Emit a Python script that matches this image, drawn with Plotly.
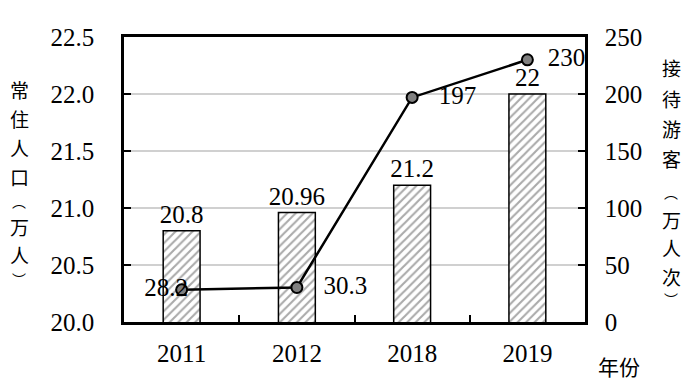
import plotly.graph_objects as go

years = ["2011", "2012", "2018", "2019"]
population = [20.8, 20.96, 21.2, 22]
pop_labels = ["20.8", "20.96", "21.2", "22"]
visitors = [28.2, 30.3, 197, 230]
visitor_labels = ["28.2", "30.3", "197", "230"]
left_ticks = [20.0, 20.5, 21.0, 21.5, 22.0, 22.5]
right_ticks = [0, 50, 100, 150, 200, 250]
left_title = ["常", "住", "人", "口", "︵", "万", "人", "︶"]
right_title = ["接", "待", "游", "客", "︵", "万", "人", "次", "︶"]
x_title = "年份"

serif = "Liberation Serif"
cjk = "Noto Sans CJK SC"
fs = 25
nb = "\u00a0"

fig = go.Figure()
fig.add_trace(go.Bar(
    x=years, y=population, width=0.32,
    marker=dict(color="white", line=dict(color="black", width=1.5),
                pattern=dict(shape="/", fgcolor="#555555", bgcolor="white", size=6, solidity=0.35)),
    text=pop_labels, textposition="outside", cliponaxis=False, constraintext="none",
    textfont=dict(family=serif, size=fs, color="black"),
    yaxis="y", showlegend=False,
))
fig.add_trace(go.Scatter(
    x=years, y=visitors, yaxis="y2", mode="lines+markers+text",
    line=dict(color="black", width=2.5),
    marker=dict(size=11, color="#808080", line=dict(color="black", width=2)),
    text=visitor_labels,
    texttemplate=["%{text}" + nb * 5, nb * 3 + "%{text}", nb * 3 + "%{text}", nb * 2 + "%{text}"],
    textposition=["middle center", "middle right", "middle right", "middle right"],
    textfont=dict(family=serif, size=fs, color="black"),
    cliponaxis=False, showlegend=False,
))

fig.update_layout(
    width=700, height=389,
    margin=dict(l=116, r=123, t=29, b=75),
    paper_bgcolor="white", plot_bgcolor="white",
    font=dict(family=serif, size=fs, color="black"),
    xaxis=dict(type="category", showline=True, linecolor="black", linewidth=2.5, mirror=True,
               ticks="inside", tickson="boundaries", ticklen=7, tickcolor="black", tickwidth=2,
               ticklabelstandoff=7, showgrid=False,
               tickfont=dict(family=serif, size=fs)),
    yaxis=dict(range=[20, 22.5], tickvals=left_ticks, tickformat=".1f",
               showline=True, linecolor="black", linewidth=2.5,
               ticks="inside", ticklen=7, tickcolor="black", tickwidth=2,
               showgrid=True, gridcolor="#d0d0d0", gridwidth=1.5,
               ticklabelstandoff=22, zeroline=False,
               tickfont=dict(family=serif, size=fs)),
    yaxis2=dict(range=[0, 250], tickvals=right_ticks, overlaying="y", side="right",
                showline=True, linecolor="black", linewidth=2.5,
                ticks="inside", ticklen=7, tickcolor="black", tickwidth=2,
                showgrid=False, ticklabelstandoff=12, zeroline=False,
                tickfont=dict(family=serif, size=fs)),
    bargap=0.68,
)

plot_top, plot_bottom, plot_left, plot_w = 37, 322, 124, 461
left_y = [89, 118, 147, 176, 201, 226, 254, 279]
right_y = [67, 98, 128, 158, 192, 219, 247, 276, 299]

def py(y):
    return (plot_bottom - y) / (plot_bottom - plot_top)

def px(x):
    return (x - plot_left) / plot_w

def size_for(ch):
    return 14 if ch in "︵︶" else 19

for ch, y in zip(left_title, left_y):
    fig.add_annotation(text=ch, xref="paper", yref="paper", x=px(19), y=py(y), showarrow=False,
                       font=dict(family=cjk, size=size_for(ch)), xanchor="center", yanchor="middle")
for ch, y in zip(right_title, right_y):
    fig.add_annotation(text=ch, xref="paper", yref="paper", x=px(671), y=py(y), showarrow=False,
                       font=dict(family=cjk, size=size_for(ch)), xanchor="center", yanchor="middle")
fig.add_annotation(text=x_title, xref="paper", yref="paper", x=px(619), y=py(366),
                   showarrow=False, font=dict(family=cjk, size=21), xanchor="center", yanchor="middle")

fig.write_html("out.html")
